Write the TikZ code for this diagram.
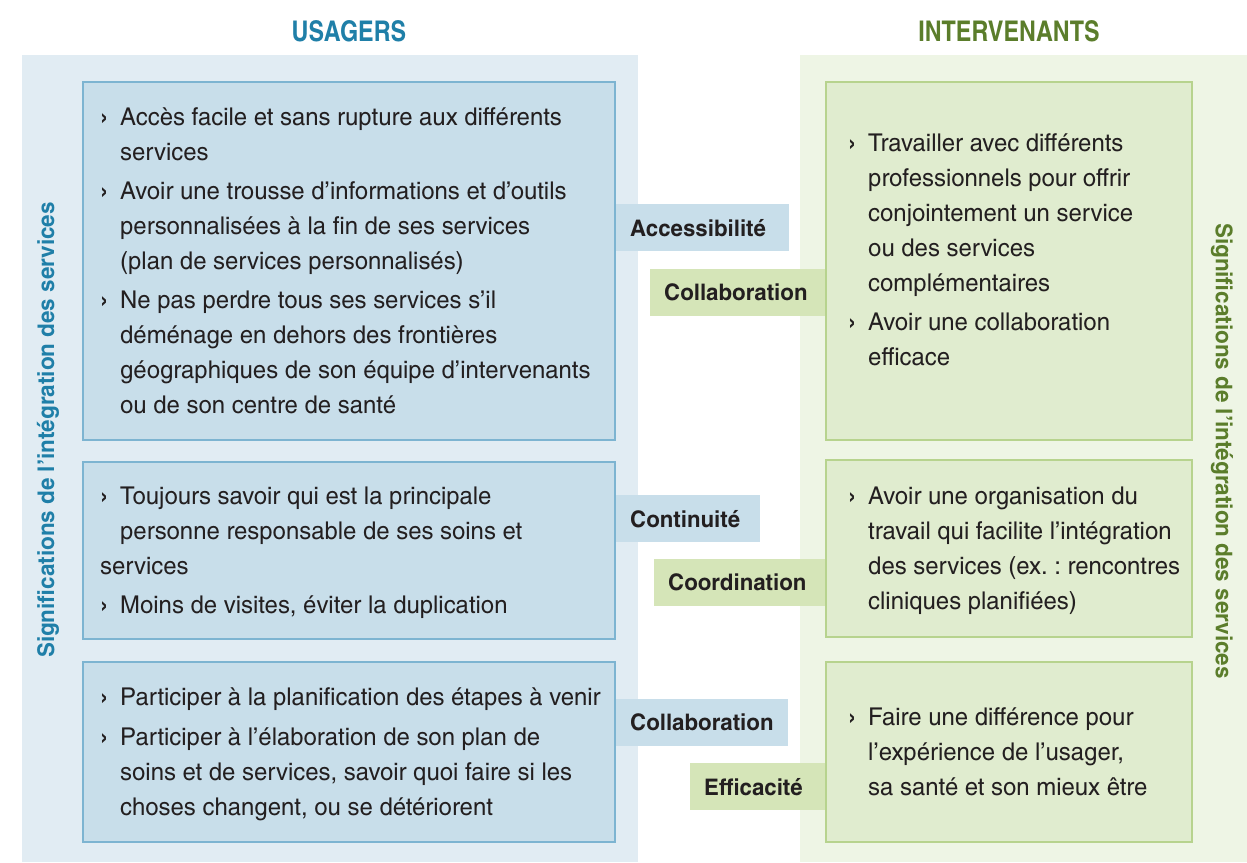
\documentclass[tikz,border=0pt]{standalone}
\usepackage{fontspec}
\setmainfont{texgyreheroscn}[Extension=.otf,UprightFont=*-regular,BoldFont=*-bold,ItalicFont=*-italic,BoldItalicFont=*-bolditalic,FakeStretch=1.19]
\newfontfamily\titlefont{texgyreheroscn}[Extension=.otf,UprightFont=*-bold,BoldFont=*-bold]
\frenchspacing
\definecolor{bgblue}{HTML}{E1ECF3}
\definecolor{boxblue}{HTML}{C8DEEA}
\definecolor{lineblue}{HTML}{7DB4D1}
\definecolor{bggreen}{HTML}{EEF5E5}
\definecolor{boxgreen}{HTML}{E0ECCF}
\definecolor{linegreen}{HTML}{B7D38E}
\definecolor{labgreen}{HTML}{D5E5B8}
\definecolor{titleblue}{HTML}{1F7FA8}
\definecolor{titlegreen}{HTML}{5B7D2B}
\definecolor{ink}{HTML}{231F20}
\newcommand{\bl}[1]{\makebox[20pt][l]{\textbf{›}}#1}
\newcommand{\cl}[1]{\hspace*{20pt}#1}
\newcommand{\fl}{\rule{0pt}{20pt}}
\begin{document}
\begin{tikzpicture}[x=1pt,y=-1pt,
  ubox/.style={draw=lineblue,fill=boxblue,line width=2pt,anchor=north west,inner sep=0pt},
  ibox/.style={draw=linegreen,fill=boxgreen,line width=2pt,anchor=north west,inner sep=0pt},
  body/.style={anchor=north west,inner sep=0pt,align=left,text=ink,
    font=\fontsize{24.5}{35}\selectfont\frenchspacing},
  lab/.style={anchor=north west,inner ysep=0pt,inner xsep=14pt,minimum height=47pt,
    align=left,text=ink,font=\fontsize{22.8}{28}\selectfont\bfseries},
  ulab/.style={lab,fill=boxblue},
  ilab/.style={lab,fill=labgreen},
  title/.style={font=\titlefont\fontsize{28.5}{32}\selectfont},
  side/.style={font=\fontsize{23}{28}\selectfont\bfseries}
]
\useasboundingbox (0,0) rectangle (1247,862);
\fill[bgblue] (22,55) rectangle (638,862);
\fill[bggreen] (800,55) rectangle (1247,862);

\node[title,text=titleblue] (tu) at (349,31) {USAGERS};
\node[title,text=titlegreen] (ti) at (1009,31) {INTERVENANTS};

\node[side,text=titleblue,rotate=90] (su) at (48,430) {Significations de l’intégration des services};
\node[side,text=titlegreen,rotate=-90] (si) at (1222,451) {Significations de l’intégration des services};

% left boxes
\node[ubox,minimum width=532pt,minimum height=358pt] (u1) at (82,81) {};
\node[ubox,minimum width=532pt,minimum height=177pt] (u2) at (82,461) {};
\node[ubox,minimum width=532pt,minimum height=180pt] (u3) at (82,661) {};
% right boxes
\node[ibox,minimum width=366pt,minimum height=358pt] (i1) at (825,81) {};
\node[ibox,minimum width=366pt,minimum height=177pt] (i2) at (825,459) {};
\node[ibox,minimum width=366pt,minimum height=180pt] (i3) at (825,661) {};

% left texts
\node[body] (tu1) at (100,105) {\fl\bl{Accès facile et sans rupture aux différents}\\
\cl{services}\\[4pt]
\bl{Avoir une trousse d’informations et d’outils}\\
\cl{personnalisées à la fin de ses services}\\
\cl{(plan de services personnalisés)}\\[4pt]
\bl{Ne pas perdre tous ses services s’il}\\
\cl{déménage en dehors des frontières}\\
\cl{géographiques de son équipe d’intervenants}\\
\cl{ou de son centre de santé}};
\node[body] (tu2) at (100,484) {\fl\bl{Toujours savoir qui est la principale}\\
\cl{personne responsable de ses soins et}\\
services\\[4pt]
\bl{Moins de visites, éviter la duplication}};
\node[body] (tu3) at (100,685) {\fl\bl{Participer à la planification des étapes à venir}\\[5pt]
\bl{Participer à l’élaboration de son plan de}\\
\cl{soins et de services, savoir quoi faire si les}\\
\cl{choses changent, ou se détériorent}};

% right texts
\node[body] (ti1) at (848,131) {\fl\bl{Travailler avec différents}\\
\cl{professionnels pour offrir}\\
\cl{conjointement un service}\\
\cl{ou des services}\\
\cl{complémentaires}\\[4pt]
\bl{Avoir une collaboration}\\
\cl{efficace}};
\node[body] (ti2) at (848,484) {\fl\bl{Avoir une organisation du}\\
\cl{travail qui facilite l’intégration}\\
\cl{des services (ex. : rencontres}\\
\cl{cliniques planifiées)}};
\node[body] (ti3) at (848,705) {\fl\bl{Faire une différence pour}\\
\cl{l’expérience de l’usager,}\\
\cl{sa santé et son mieux être}};

% labels
\node[ulab,text width=145pt] (l1) at (616,204) {Accessibilité};
\node[ilab,text width=147pt] (l2) at (650,269) {Collaboration};
\node[ulab,text width=116pt] (l3) at (616,495) {Continuité};
\node[ilab,text width=143pt] (l4) at (654,559) {Coordination};
\node[ulab,text width=144pt] (l5) at (616,699) {Collaboration};
\node[ilab,text width=107pt] (l6) at (690,763) {Efficacité};
\end{tikzpicture}
\end{document}
